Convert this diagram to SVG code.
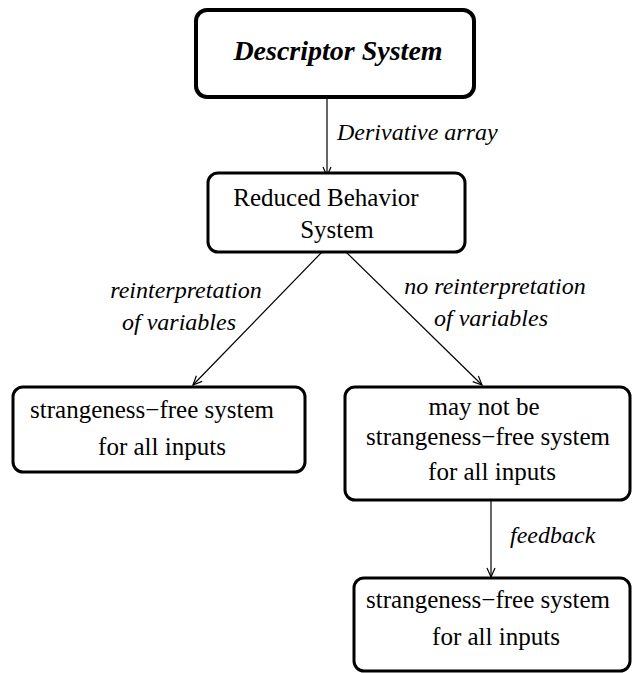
<svg xmlns="http://www.w3.org/2000/svg" width="632" height="673" viewBox="0 0 632 673">
<style>
svg text, text, tspan{font-family:"Liberation Serif","Times New Roman",serif !important}
.box{fill:#fff;stroke:#000;stroke-width:3}
.c{stroke:#000;stroke-width:1.2;fill:none}
</style>
<defs>
<marker id="ah" markerWidth="12" markerHeight="12" refX="10" refY="5" orient="auto" markerUnits="userSpaceOnUse">
<path d="M1,1 L10,5 L1,9" fill="none" stroke="#000" stroke-width="1.2"/>
</marker>
</defs>
<g id="connectors">
<line class="c" x1="327" y1="97" x2="327" y2="176" marker-end="url(#ah)"/>
<line class="c" x1="322" y1="252" x2="193" y2="385" marker-end="url(#ah)"/>
<line class="c" x1="346" y1="252" x2="482" y2="385" marker-end="url(#ah)"/>
<line class="c" x1="491" y1="500" x2="491" y2="577" marker-end="url(#ah)"/>
<text x="337" y="140" style="font-family:'Liberation Serif',serif !important;font-style:italic;font-size:24px">Derivative array</text>
<text x="186" y="298" text-anchor="middle" style="font-family:'Liberation Serif',serif !important;font-style:italic;font-size:24px">reinterpretation</text>
<text x="179" y="330" text-anchor="middle" style="font-family:'Liberation Serif',serif !important;font-style:italic;font-size:24px">of variables</text>
<text x="495" y="294" text-anchor="middle" style="font-family:'Liberation Serif',serif !important;font-style:italic;font-size:24px">no reinterpretation</text>
<text x="491" y="326" text-anchor="middle" style="font-family:'Liberation Serif',serif !important;font-style:italic;font-size:24px">of variables</text>
<text x="510" y="543" style="font-family:'Liberation Serif',serif !important;font-style:italic;font-size:24px">feedback</text>
</g>
<g id="descriptor">
<rect class="box" x="196" y="10" width="278" height="87" rx="11" style="stroke-width:4"/>
<text x="338" y="60" text-anchor="middle" style="font-family:'Liberation Serif',serif !important;font-weight:bold;font-style:italic;font-size:28px">Descriptor System</text>
</g>
<g id="reduced">
<rect class="box" x="208" y="173" width="257" height="79" rx="10"/>
<text x="326" y="206" text-anchor="middle" style="font-family:'Liberation Serif',serif !important;font-size:25px">Reduced Behavior</text>
<text x="337" y="238" text-anchor="middle" style="font-family:'Liberation Serif',serif !important;font-size:25px">System</text>
</g>
<g id="left">
<rect class="box" x="13" y="387" width="292" height="85" rx="10"/>
<text x="152" y="418" text-anchor="middle" style="font-family:'Liberation Serif',serif !important;font-size:25px">strangeness&#8722;free system</text>
<text x="162" y="455" text-anchor="middle" style="font-family:'Liberation Serif',serif !important;font-size:25px">for all inputs</text>
</g>
<g id="right">
<rect class="box" x="345" y="387" width="285" height="113" rx="10"/>
<text x="484" y="415" text-anchor="middle" style="font-family:'Liberation Serif',serif !important;font-size:25px">may not be</text>
<text x="488" y="445" text-anchor="middle" style="font-family:'Liberation Serif',serif !important;font-size:25px">strangeness&#8722;free system</text>
<text x="492" y="480" text-anchor="middle" style="font-family:'Liberation Serif',serif !important;font-size:25px">for all inputs</text>
</g>
<g id="bottom">
<rect class="box" x="354" y="578" width="276" height="93" rx="10"/>
<text x="488" y="608" text-anchor="middle" style="font-family:'Liberation Serif',serif !important;font-size:25px">strangeness&#8722;free system</text>
<text x="496" y="645" text-anchor="middle" style="font-family:'Liberation Serif',serif !important;font-size:25px">for all inputs</text>
</g>
</svg>
